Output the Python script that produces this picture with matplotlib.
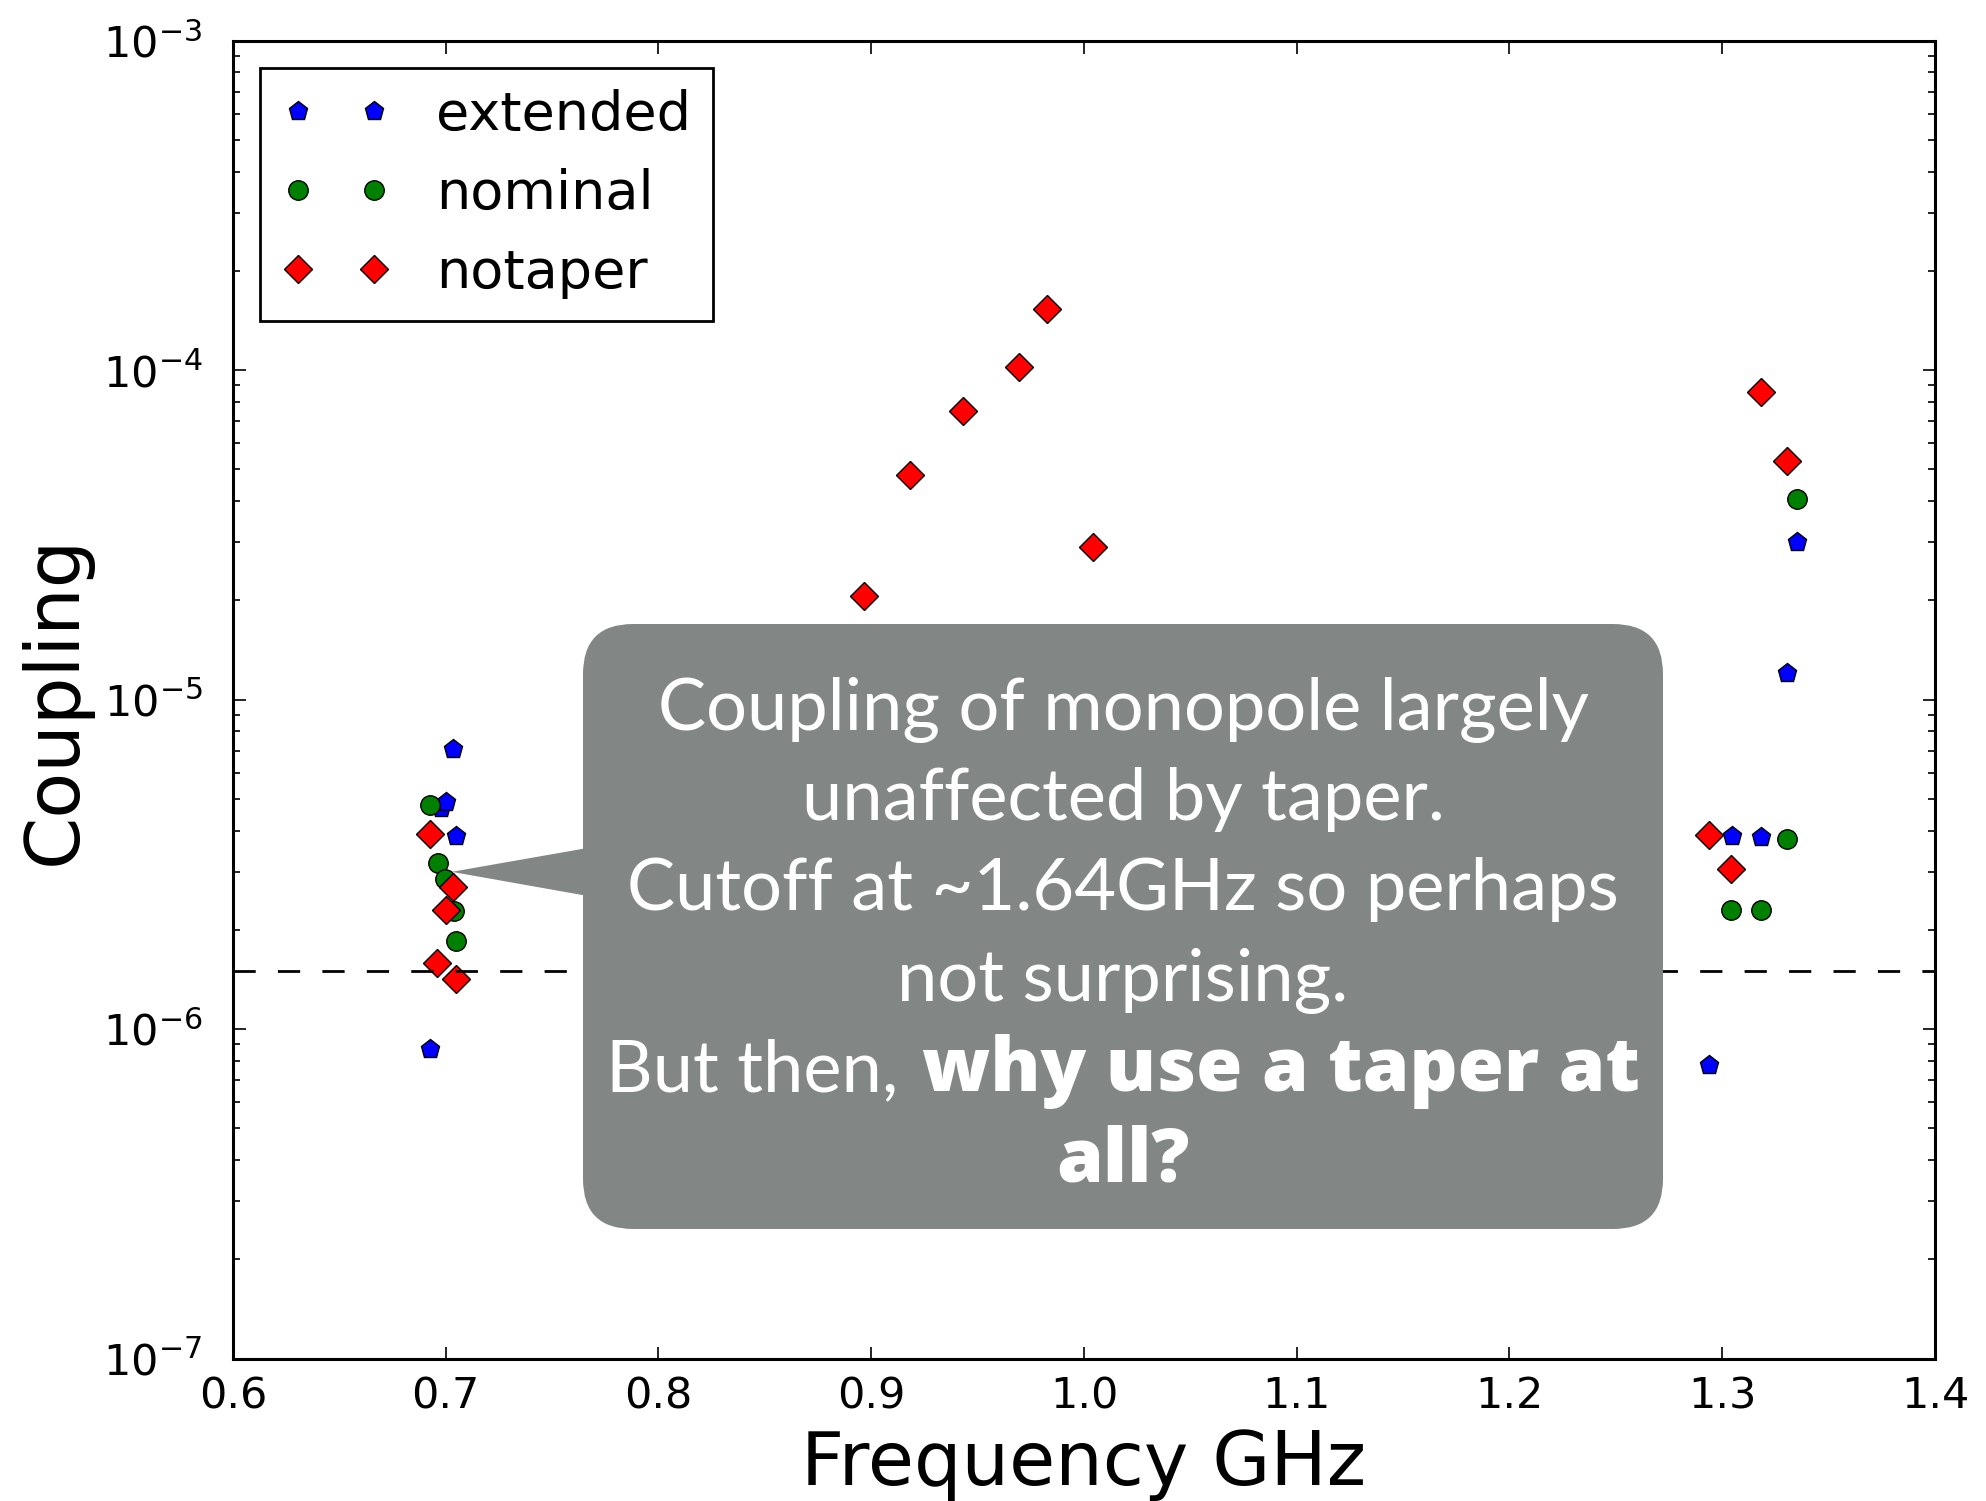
import numpy as np
import matplotlib
matplotlib.use("Agg")
import matplotlib.pyplot as plt
from matplotlib.patches import FancyBboxPatch, Polygon

plt.rcParams['axes.unicode_minus'] = False

# extended
ext_f = [0.6928, 0.6976, 0.7000, 0.7036, 0.7048, 1.2938, 1.3045, 1.3182, 1.3305, 1.3352]
ext_c = [8.7e-7, 4.7e-6, 4.9e-6, 7.1e-6, 3.85e-6, 7.8e-7, 3.86e-6, 3.82e-6, 1.2e-5, 3.0e-5]
# nominal
nom_f = [0.6928, 0.6963, 0.6998, 0.7040, 0.7048, 1.3042, 1.3182, 1.3305, 1.3352]
nom_c = [4.77e-6, 3.18e-6, 2.86e-6, 2.28e-6, 1.85e-6, 2.30e-6, 2.29e-6, 3.77e-6, 4.06e-5]
# notaper
nt_f = [0.6928, 0.6959, 0.7001, 0.7033, 0.7048, 0.8966, 0.9184, 0.9433, 0.9696, 0.9826,
        1.0044, 1.2938, 1.3042, 1.3182, 1.3305]
nt_c = [3.92e-6, 1.59e-6, 2.29e-6, 2.70e-6, 1.42e-6, 2.06e-5, 4.80e-5, 7.52e-5, 1.02e-4,
        1.535e-4, 2.91e-5, 3.88e-6, 3.07e-6, 8.6e-5, 5.3e-5]

limit = 1.5e-6

fig = plt.figure(figsize=(19.86, 15.01), dpi=100)
ax = fig.add_axes([0.1173, 0.0949, 0.857, 0.8781])

ax.plot(ext_f, ext_c, 'p', color='#0000ff', mec='k', mew=1, ms=14, label='extended')
ax.plot(nom_f, nom_c, 'o', color='#008000', mec='k', mew=1, ms=14, label='nominal')
ax.plot(nt_f, nt_c, 'D', color='#ff0000', mec='k', mew=1, ms=14, label='notaper')
ax.axhline(limit, color='k', lw=2, linestyle=(0, (8, 8)))

ax.set_yscale('log')
ax.set_xlim(0.6, 1.4)
ax.set_ylim(1e-7, 1e-3)
ax.set_xticks(np.arange(0.6, 1.41, 0.1))

for s in ax.spines.values():
    s.set_linewidth(2.2)
ax.tick_params(which='both', direction='in', top=True, right=True, width=1.2)
ax.tick_params(which='major', length=9)
ax.tick_params(which='minor', length=5)
ax.tick_params(axis='x', labelsize=31, pad=12)
ax.tick_params(axis='y', labelsize=31, pad=22)

ax.set_xlabel('Frequency GHz', fontsize=54, labelpad=8)
ax.set_ylabel('Coupling', fontsize=54, labelpad=8)

leg = ax.legend(loc='upper left', fontsize=39, numpoints=2, handlelength=2.0,
                handletextpad=0.85, borderpad=0.4, labelspacing=0.5,
                borderaxespad=0.5, fancybox=False, framealpha=1)
leg.get_frame().set_edgecolor('k')
leg.get_frame().set_linewidth(2)

# callout box (inches from lower left of figure)
grey = '#828785'
box = FancyBboxPatch((5.83 + 0.5, 2.72 + 0.5), 10.80 - 1.0, 6.05 - 1.0,
                     boxstyle='round,pad=0.5', transform=fig.dpi_scale_trans,
                     facecolor=grey, edgecolor='none', zorder=10)
fig.add_artist(box)

fig.canvas.draw()
tip = ax.transData.transform((0.7028, 3.0e-6)) / fig.dpi
tri = Polygon([tip, (6.2, 6.587), (6.2, 5.993)], closed=True,
              transform=fig.dpi_scale_trans, facecolor=grey, edgecolor='none', zorder=10)
fig.add_artist(tri)

cx = 11.23
fam = 'Lato'
fs = 52
bfam = 'Open Sans'
bfs = 54
lines = ['Coupling of monopole largely', 'unaffected by taper.',
         'Cutoff at ~1.64GHz so perhaps', 'not surprising.']
base = 15.01 - 7.296
step = 0.904
for i, t in enumerate(lines):
    fig.text(cx, base - i * step, t, transform=fig.dpi_scale_trans, ha='center',
             va='baseline', color='white', fontsize=fs, family=fam, weight='normal', zorder=11)

r = fig.canvas.get_renderer()
y5 = base - 4 * step
t1 = fig.text(0, y5, 'But then,', transform=fig.dpi_scale_trans, ha='left', va='baseline',
              color='white', fontsize=fs, family=fam, weight='normal', zorder=11)
t2 = fig.text(0, y5, 'why use a taper at', transform=fig.dpi_scale_trans, ha='left',
              va='baseline', color='white', fontsize=bfs, family=bfam, weight='heavy', zorder=11)
w1 = t1.get_window_extent(r).width / fig.dpi
w2 = t2.get_window_extent(r).width / fig.dpi
gap = 0.23
x0 = cx - (w1 + gap + w2) / 2
t1.set_x(x0)
t2.set_x(x0 + w1 + gap)
fig.text(cx, base - 5 * step, 'all?', transform=fig.dpi_scale_trans, ha='center',
         va='baseline', color='white', fontsize=bfs, family=bfam, weight='heavy', zorder=11)

fig.savefig('out.png', dpi=100)
